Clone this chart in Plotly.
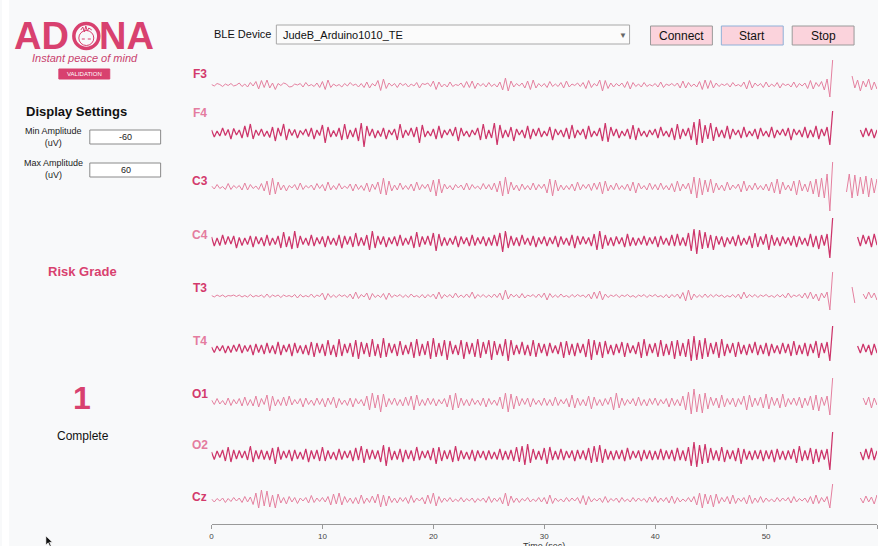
import numpy as np
import plotly.graph_objects as go

W, H = 878, 546
FS = 4  # samples per second

CHANNELS = ["F3", "F4", "C3", "C4", "T3", "T4", "O1", "O2", "Cz"]

# EEG samples in uV from 0 s to 56 s (4 samples per second)
F3 = [1,-2,3,1,-3,2,-1,3,-2,0,4,-3,2,-4,5,-2,7,-8,9,-5,
      10,-6,4,-9,3,-1,4,2,-4,-3,2,0,3,-4,5,-2,1,-3,4,-5,
      7,-9,10,-5,2,-2,1,-4,3,-2,5,-1,2,-4,3,-5,6,-6,3,-2,
      9,-11,12,-7,4,-2,3,-5,4,-1,3,-4,2,-2,5,-6,3,1,4,-3,
      8,-9,6,-4,2,-4,6,-3,1,-1,4,-5,7,-5,8,-7,4,-2,3,-4,
      5,-3,2,-4,6,-10,14,-12,8,-4,3,-2,4,-6,8,-9,10,-6,3,-3,
      3,-5,7,-3,2,-3,5,-6,8,-4,2,-1,4,-3,5,-7,9,-5,3,-2,
      10,-12,9,-7,4,-4,3,-2,4,-5,7,-8,5,-3,2,-4,5,-3,1,-2,
      3,-4,6,-5,2,-1,3,-2,4,-6,8,-6,5,-3,2,-4,7,-9,10,-7,
      9,-6,4,-3,2,-1,3,-4,5,-2,1,-3,6,-8,9,-6,4,-2,3,-5,
      6,-4,2,-3,5,-6,3,-1,2,-4,6,-5,3,-2,4,-7,9,-8,5,-3,
      7,-10,12,-24,50]
F4 = [6,-8,4,-6,10,-5,7,-12,9,-4,6,-10,14,-8,18,-12,6,-5,8,-7,
      4,-9,12,-16,10,-6,18,-14,8,-5,7,-10,5,-3,8,-7,10,-12,6,-5,
      16,-20,12,-8,5,-7,10,-14,18,-12,6,-8,10,-16,20,-28,14,-6,8,-10,
      5,-7,10,-12,6,-4,8,-14,18,-10,6,-5,10,-8,12,-20,16,-8,4,-6,
      8,-12,14,-10,6,-4,8,-6,12,-16,10,-6,4,-8,6,-4,10,-14,18,-12,
      6,-10,20,-24,16,-10,6,-8,12,-16,8,-4,6,-10,14,-12,8,-6,10,-8,
      4,-6,12,-14,8,-4,6,-8,10,-12,16,-10,6,-4,8,-12,14,-8,4,-6,
      10,-16,20,-18,12,-6,8,-10,4,-6,8,-12,16,-14,10,-6,4,-8,6,-4,
      8,-10,12,-6,4,-8,10,-14,18,-12,8,-6,10,-14,22,-24,28,-20,16,-12,
      20,-16,12,-8,6,-10,14,-12,8,-4,6,-10,12,-8,4,-6,8,-12,10,-6,
      4,-8,12,-10,6,-4,8,-6,10,-14,8,-4,6,-8,12,-10,6,-8,14,-12,
      8,-6,12,-24,44]
C3 = [2,-4,5,-3,1,-5,7,-5,3,-2,3,-6,8,-6,5,-3,2,-5,7,-8,
      12,-16,18,-14,10,-6,4,-8,3,-2,5,-6,8,-5,3,-2,4,-6,7,-3,
      5,-8,10,-6,3,-5,7,-4,2,-3,6,-8,6,-5,3,-7,8,-10,6,-5,
      10,-14,18,-16,12,-8,4,-6,8,-5,3,-5,6,-8,10,-6,5,-3,6,-10,
      14,-18,16,-12,6,-4,3,-6,5,-2,4,-6,8,-6,5,-3,2,-5,7,-4,
      5,-6,8,-10,12,-18,20,-14,10,-6,4,-8,6,-5,3,-6,8,-6,5,-3,
      6,-12,16,-18,14,-8,4,-6,3,-5,6,-8,10,-6,5,-3,6,-7,8,-5,
      10,-14,12,-8,4,-6,8,-5,3,-5,6,-8,10,-12,8,-4,3,-6,8,-5,
      5,-6,8,-5,3,-6,7,-10,12,-8,6,-4,8,-14,20,-22,18,-16,14,-10,
      16,-12,8,-6,4,-8,10,-6,4,-3,6,-10,12,-8,4,-6,8,-5,3,-6,
      6,-8,10,-12,16,-14,10,-6,4,-8,12,-16,14,-8,6,-10,12,-14,16,-20,
      18,-22,26,-48,50]
C4 = [8,-10,6,-9,12,-7,9,-6,10,-14,7,-9,6,-7,10,-12,9,-6,7,-10,
      12,-9,6,-7,10,-14,18,-12,9,-16,20,-14,10,-7,6,-9,12,-10,7,-6,
      9,-12,10,-7,6,-9,12,-14,10,-7,9,-12,16,-10,7,-9,12,-18,20,-14,
      10,-7,9,-12,7,-6,9,-10,12,-9,6,-7,10,-14,18,-12,9,-7,10,-9,
      16,-20,14,-10,7,-9,6,-7,10,-12,9,-6,7,-10,12,-9,7,-6,9,-10,
      7,-9,12,-10,16,-22,20,-14,10,-9,7,-10,12,-7,6,-9,10,-12,7,-6,
      9,-10,7,-6,10,-12,9,-7,6,-9,12,-14,10,-7,9,-6,7,-10,14,-18,
      20,-16,12,-9,7,-10,9,-6,7,-12,14,-10,7,-9,6,-7,10,-9,7,-6,
      9,-12,10,-7,6,-9,12,-10,14,-9,7,-10,16,-20,24,-26,22,-16,18,-14,
      12,-18,10,-7,9,-12,7,-6,9,-10,12,-9,6,-7,10,-14,16,-12,9,-7,
      14,-18,12,-9,7,-10,9,-6,7,-9,10,-12,9,-7,6,-10,14,-12,10,-16,
      12,-9,14,-34,46]
T3 = [1,-2,2,-1,2,-2,1,0,2,-1,2,-2,1,-2,3,-2,1,-1,2,-3,
      4,-3,2,-1,2,-3,2,-1,1,-2,3,-4,3,-2,1,-2,4,-3,2,-1,
      6,-8,5,-3,2,-3,3,-1,2,-3,4,-6,8,-5,3,-2,6,-8,5,-3,
      2,-3,5,-7,6,-3,2,-1,3,-3,2,-3,4,-2,1,-3,3,-4,3,-2,
      4,-6,8,-5,3,-2,3,-4,6,-3,2,-3,4,-3,8,-5,3,-2,3,-3,
      2,-3,4,-3,6,-8,12,-6,4,-2,3,-4,5,-4,2,-1,3,-3,4,-3,
      6,-8,5,-3,2,-3,4,-2,1,-3,3,-2,3,-1,2,-3,4,-6,8,-5,
      10,-8,4,-3,2,-1,3,-3,2,-1,3,-2,1,-3,2,-1,3,-3,2,-1,
      3,-2,1,-3,3,-4,3,-2,4,-5,7,-10,12,-8,4,-3,2,-3,4,-3,
      3,-2,3,-1,2,-3,1,-2,3,-3,4,-6,8,-4,3,-2,3,-3,2,-1,
      3,-2,1,-3,3,-2,3,-4,6,-3,2,-1,3,-4,6,-5,8,-6,4,-10,
      6,-4,8,-28,48]
T4 = [4,-7,6,-4,7,-8,6,-7,8,-5,10,-8,7,-5,8,-12,10,-7,8,-10,
      12,-8,7,-10,14,-12,8,-6,10,-14,12,-8,7,-10,8,-12,14,-16,12,-8,
      10,-14,18,-12,8,-16,20,-14,10,-8,12,-16,18,-20,14,-10,12,-16,20,-14,
      10,-18,22,-16,12,-8,10,-14,16,-12,8,-10,14,-18,20,-14,10,-12,16,-20,
      22,-16,12,-14,18,-22,16,-10,8,-12,18,-20,14,-10,12,-16,20,-18,14,-10,
      18,-22,16,-12,10,-14,20,-24,18,-12,8,-10,14,-12,8,-14,18,-16,12,-8,
      10,-14,12,-8,7,-10,14,-18,16,-12,10,-14,12,-8,10,-16,20,-22,18,-12,
      14,-18,16,-10,8,-12,10,-8,14,-16,12,-8,7,-10,14,-18,20,-14,10,-8,
      12,-16,18,-14,10,-12,16,-20,18,-14,12,-16,20,-24,26,-22,18,-20,22,-16,
      12,-10,14,-18,20,-14,10,-8,12,-16,14,-10,8,-12,10,-8,14,-12,8,-10,
      12,-14,10,-8,7,-10,12,-8,10,-14,16,-12,8,-10,12,-14,10,-8,16,-18,
      12,-8,14,-24,46]
O1 = [4,-5,7,-4,3,-6,8,-7,5,-4,7,-8,10,-7,5,-8,12,-10,7,-5,
      14,-18,12,-8,5,-7,10,-8,12,-6,5,-4,7,-10,8,-5,4,-7,8,-5,
      7,-10,8,-5,10,-12,7,-5,4,-7,8,-10,7,-4,5,-8,12,-16,18,-12,
      14,-20,16,-10,7,-5,8,-7,5,-8,10,-7,12,-16,14,-8,5,-7,8,-5,
      7,-8,5,-4,7,-10,14,-16,18,-12,8,-7,5,-8,7,-5,4,-7,8,-10,
      7,-5,4,-7,10,-14,18,-20,16,-14,12,-8,7,-5,8,-10,7,-5,4,-7,
      8,-7,5,-8,10,-7,5,-4,7,-10,14,-12,8,-7,5,-8,12,-14,10,-7,
      5,-8,7,-5,10,-16,18,-12,8,-7,5,-4,7,-8,10,-7,5,-8,7,-5,
      8,-7,5,-4,7,-10,8,-7,5,-8,12,-16,20,-24,26,-20,16,-22,18,-14,
      10,-7,8,-12,14,-10,7,-5,8,-10,7,-5,12,-16,14,-10,8,-7,10,-12,
      16,-14,10,-7,8,-12,16,-10,7,-5,8,-7,10,-12,8,-7,12,-16,14,-18,
      10,-7,12,-26,48]
O2 = [6,-9,8,-5,10,-12,16,-14,10,-8,9,-6,8,-10,18,-14,9,-8,10,-9,
      8,-10,14,-18,16,-9,8,-6,10,-12,10,-8,6,-9,12,-14,9,-8,10,-12,
      16,-12,9,-8,6,-10,12,-9,8,-6,9,-12,14,-10,18,-16,12,-9,10,-8,
      9,-14,20,-22,16,-10,8,-9,12,-14,10,-8,9,-12,16,-10,8,-6,9,-10,
      14,-18,16,-12,9,-8,10,-14,18,-12,9,-8,6,-9,10,-12,9,-6,8,-10,
      9,-8,6,-9,12,-10,8,-9,10,-12,16,-14,18,-20,22,-16,12,-9,8,-10,
      14,-18,16,-10,8,-9,12,-10,8,-6,9,-12,10,-8,9,-10,14,-16,18,-14,
      20,-16,12,-9,8,-10,9,-8,10,-12,14,-9,8,-6,9,-12,10,-8,9,-10,
      8,-9,12,-10,9,-8,10,-12,14,-10,9,-12,16,-22,26,-24,20,-18,22,-16,
      14,-10,9,-12,16,-14,10,-8,9,-12,14,-18,12,-9,8,-10,9,-8,10,-12,
      9,-8,10,-14,12,-9,8,-10,9,-8,12,-16,18,-12,9,-10,14,-18,12,-14,
      10,-9,12,-30,46]
CZ = [2,-4,3,-2,4,-5,3,-3,5,-2,4,-5,7,-4,6,-9,14,-16,20,-12,
      18,-14,10,-16,12,-6,5,-8,7,-4,5,-7,4,-2,5,-6,9,-5,4,-3,
      5,-4,7,-10,12,-8,14,-10,7,-5,4,-7,5,-8,10,-7,4,-5,8,-6,
      12,-14,10,-12,8,-5,4,-6,5,-3,5,-7,9,-5,4,-2,5,-8,10,-7,
      14,-12,7,-5,4,-3,5,-4,2,-3,5,-4,3,-2,4,-5,3,-2,4,-5,
      7,-5,4,-3,5,-8,14,-12,8,-5,4,-5,3,-2,5,-4,2,-3,5,-4,
      5,-8,10,-7,4,-3,2,-4,5,-3,4,-2,5,-7,9,-10,7,-4,3,-2,
      4,-5,7,-5,3,-2,4,-5,5,-3,2,-4,5,-3,4,-2,3,-5,6,-4,
      7,-5,4,-3,5,-6,8,-7,5,-4,2,-3,5,-4,7,-10,14,-16,12,-8,
      10,-14,12,-7,5,-4,7,-8,10,-7,4,-3,5,-8,10,-7,4,-5,7,-5,
      4,-3,2,-4,5,-3,4,-2,5,-6,7,-4,3,-2,4,-5,7,-8,10,-7,
      5,-4,7,-16,32]

# samples recorded after the short dropout (start time in s, values in uV)
F3_AFTER = (57.75, [18,-6,10,-12,8,-4,12,-10,6,-8,9])
F4_AFTER = (58.5, [6,-8,10,-6,8,-10,6,-4,8])
C3_AFTER = (57.25, [-10,26,-22,24,-18,20,-14,22,-20,18,-12,16,-14])
C4_AFTER = (58.25, [8,-10,12,-6,10,-12,14,-8,6,-10,12])
T3_AFTER = (57.75, [18,-14,None,None,4,-6,8,-4,6,-8,10,-6,4])
T4_AFTER = (58.25, [6,-8,10,-6,8,-12,10,-8,12,-6,8])
O1_AFTER = (58.75, [8,-6,10,-12,8,-6,10])
O2_AFTER = (58.5, [6,-10,12,-8,14,-10,8,-12,10])
CZ_AFTER = (58.5, [4,-6,8,-4,6,-8,10,-6,4])

SIGNALS = [F3, F4, C3, C4, T3, T4, O1, O2, CZ]
AFTER = [F3_AFTER, F4_AFTER, C3_AFTER, C4_AFTER, T3_AFTER, T4_AFTER,
         O1_AFTER, O2_AFTER, CZ_AFTER]

X_TICKS = [0, 10, 20, 30, 40, 50, 60]
AMP_MIN, AMP_MAX = -60, 60

# ---- layout helpers (pixel -> paper) ----
def px(x):
    return x / W

def py(y):
    return 1 - y / H

PINK_DARK = "#d33a6c"
PINK_LIGHT = "#e47c9f"
TRACE_LIGHT = "#e4809f"
TRACE_DARK = "#cd356a"
BRAND = "#d8416f"

BASELINES = [85, 133, 187, 241, 296, 349, 402, 455, 500]
LABEL_Y = [74, 113, 181, 235, 288, 341, 394, 445, 497]
HALF = 30  # half height of each channel strip in px
FONT = "Liberation Sans, Arial, Helvetica, sans-serif"

fig = go.Figure()
layout_axes = {}
channel_labels = []

for i, (name, sig, (t_after, after)) in enumerate(zip(CHANNELS, SIGNALS, AFTER)):
    assert len(sig) == 225, (name, len(sig))
    t_main = np.arange(len(sig)) / FS
    t_post = t_after + np.arange(len(after)) / FS
    x = list(t_main) + [None] + list(t_post)
    y = list(sig) + [None] + list(after)
    light = i % 2 == 0
    yname = "y" if i == 0 else f"y{i + 1}"
    fig.add_trace(go.Scatter(
        x=x, y=y, mode="lines", xaxis="x", yaxis=yname,
        line=dict(color=TRACE_LIGHT if light else TRACE_DARK,
                  width=1.0 if light else 1.25),
        connectgaps=False, showlegend=False, hoverinfo="skip"))
    b = BASELINES[i]
    key = "yaxis" if i == 0 else f"yaxis{i + 1}"
    layout_axes[key] = dict(
        domain=[max(0, py(b + HALF)), min(1, py(b - HALF))],
        range=[AMP_MIN, AMP_MAX], visible=False, fixedrange=True)
    channel_labels.append(dict(
        x=px(198), y=py(LABEL_Y[i]), xref="paper", yref="paper",
        xanchor="center", yanchor="middle",
        text=f"<b>{name}</b>", showarrow=False,
        font=dict(family=FONT, size=12,
                  color=PINK_DARK if light else PINK_LIGHT)))

fig.update_layout(
    width=W, height=H, autosize=False,
    margin=dict(l=0, r=0, t=0, b=0, pad=0),
    paper_bgcolor="#f8f9fa", plot_bgcolor="rgba(0,0,0,0)",
    font=dict(family=FONT, color="#111"),
    xaxis=dict(domain=[px(210), px(877)], range=[0, 60], anchor="free",
               position=py(524), tickvals=X_TICKS, ticks="outside",
               ticklen=4, tickcolor="#999", showline=True, linecolor="#999",
               linewidth=1, showgrid=False, zeroline=False,
               tickfont=dict(size=8, color="#444", family=FONT),
               fixedrange=True),
    **layout_axes,
)

shapes = []
annos = []

def text(x, y, s, size, color="#111", bold=False, italic=False,
         xanchor="center", yanchor="middle"):
    if bold:
        s = f"<b>{s}</b>"
    if italic:
        s = f"<i>{s}</i>"
    annos.append(dict(x=px(x), y=py(y), xref="paper", yref="paper", text=s,
                      showarrow=False, xanchor=xanchor, yanchor=yanchor,
                      font=dict(family=FONT, size=size, color=color)))

def box(x0, y0, x1, y1, fill, line, width=1):
    shapes.append(dict(type="rect", xref="paper", yref="paper",
                       x0=px(x0), x1=px(x1), y0=py(y1), y1=py(y0),
                       fillcolor=fill, line=dict(color=line, width=width),
                       layer="below"))

def circle(cx, cy, r, line, width, fill="rgba(0,0,0,0)"):
    shapes.append(dict(type="circle", xref="paper", yref="paper",
                       x0=px(cx - r), x1=px(cx + r), y0=py(cy + r), y1=py(cy - r),
                       fillcolor=fill, line=dict(color=line, width=width)))

def path(points, line, width, fill="rgba(0,0,0,0)", close=False):
    d = "M " + " L ".join(f"{px(a):.5f},{py(b):.5f}" for a, b in points)
    if close:
        d += " Z"
    shapes.append(dict(type="path", xref="paper", yref="paper", path=d,
                       fillcolor=fill, line=dict(color=line, width=width)))

# left edge strip
box(0, 0, 7, H, "#ffffff", "rgba(0,0,0,0)", 0)

# logo: wordmark with a face in place of the O
text(40, 36, "AD", 38, BRAND, bold=True)
text(125, 36, "NA", 38, BRAND, bold=True)
circle(84.5, 36, 12.5, BRAND, 3.5)
circle(84.5, 38, 7.5, BRAND, 1)
path([(79, 30), (81, 27), (82.5, 32), (84, 26), (85.5, 31), (87, 28), (90, 30)], BRAND, 1)
path([(80, 39), (83, 39)], BRAND, 1)
path([(86, 39), (89, 39)], BRAND, 1)
text(83, 58, "Instant peace of mind", 11, "#c8426e", italic=True)
box(57, 69, 108, 79, BRAND, BRAND)
text(82.5, 74, "VALIDATION", 6, "#ffffff")

# display settings panel
text(75, 112, "Display Settings", 13, "#111", bold=True)
text(52, 137, "Min Amplitude<br>(uV)", 9, "#222")
box(88, 130, 159, 144, "#ffffff", "#8a8a8a")
text(124, 137, str(AMP_MIN), 9, "#222")
text(52, 169, "Max Amplitude<br>(uV)", 9, "#222")
box(88, 163, 159, 177, "#ffffff", "#8a8a8a")
text(124, 170, str(AMP_MAX), 9, "#222")

text(81, 271, "Risk Grade", 13, BRAND, bold=True)
text(80, 398, "1", 32, BRAND, bold=True)
text(81, 436, "Complete", 12, "#111")

# device selector and controls
text(241, 34, "BLE Device", 11, "#111")
box(275, 25, 629, 44, "#fbfbfb", "#a8a8a8")
text(280, 35, "JudeB_Arduino1010_TE", 11, "#111", xanchor="left")
text(622, 35, "▼", 8, "#666")
for label, x0, border in [("Connect", 650, "#9a9a9a"), ("Start", 721, "#8fb0d8"),
                          ("Stop", 792, "#9a9a9a")]:
    box(x0, 26, x0 + 62, 45, "#fbd3dc", border)
    text(x0 + 31, 36, label, 12, "#111")

# mouse pointer
path([(44, 536), (44, 545), (46.3, 542.8), (48, 546.5), (49.3, 546), (47.7, 542.3),
      (50.5, 542.3)], "#ffffff", 0.6, fill="#111", close=True)

# axis title
text(543, 546, "Time (sec)", 9, "#333", yanchor="middle")

fig.update_layout(shapes=shapes, annotations=channel_labels + annos)

fig.write_html("out.html", config={"displayModeBar": False, "staticPlot": True})
